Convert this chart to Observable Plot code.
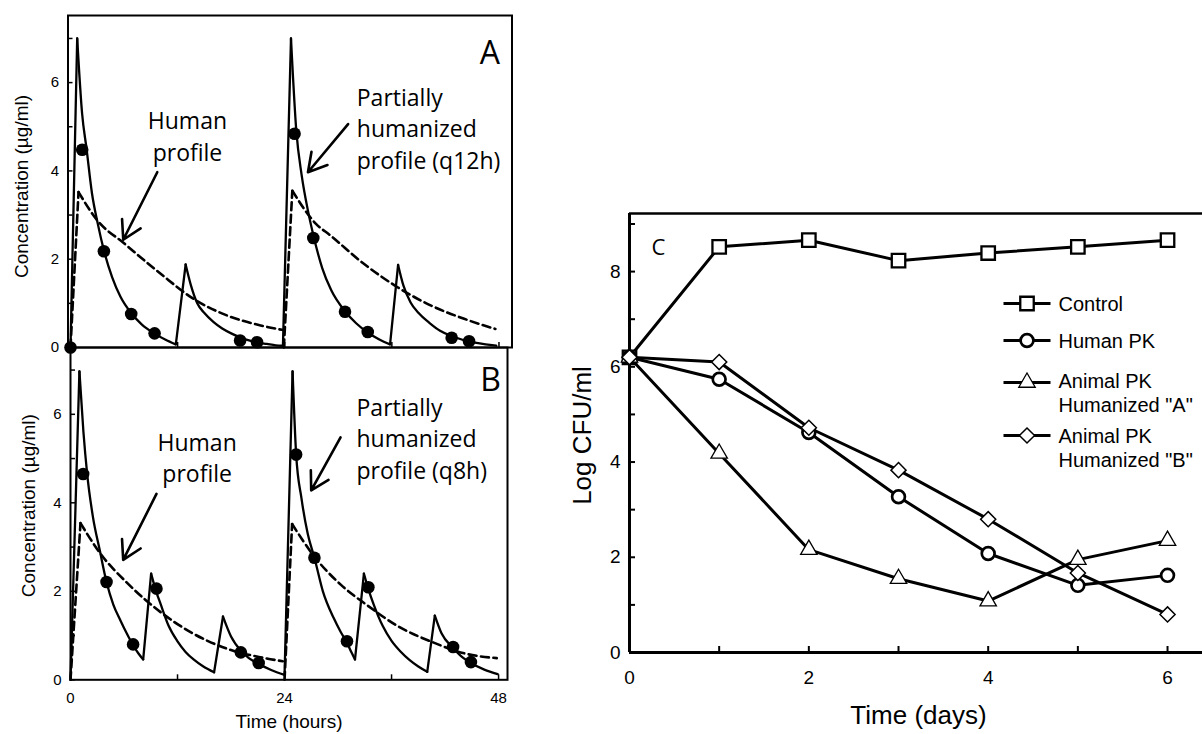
<!DOCTYPE html>
<html><head><meta charset="utf-8">
<script src="https://cdn.jsdelivr.net/npm/d3@7"></script>
<script src="https://cdn.jsdelivr.net/npm/@observablehq/plot@0.6"></script>
<style>
body{margin:0;background:#fff;}
#wrap{position:relative;width:1202px;height:734px;overflow:hidden;background:#fff;}
#wrap svg{position:absolute;}
</style></head><body><div id="wrap"></div>
<script>
// ---------- Panel A (q12h) : [hours, µg/ml], one array per curve segment ----------
const solidA = [
  [[0,0],[0.75,7.0]],
  [[0.75,7.0],[1.3,5.3],[1.8,4.5],[2.4,3.5],[3.06,2.8],[3.74,2.2],[4.67,1.59],[5.6,1.15],[6.8,0.78],[8.0,0.52],[9.4,0.32],[10.6,0.18],[11.8,0.07]],
  [[11.8,0.07],[12.9,1.88]],
  [[12.9,1.88],[13.5,1.4],[14.2,1.0],[15,0.78],[16,0.58],[17,0.43],[18,0.32],[19,0.23],[20,0.16],[21,0.11],[22,0.08],[23,0.05],[23.8,0.04]],
  [[23.8,0.04],[24.7,7.0]],
  [[24.7,7.0],[25.3,4.9],[25.9,3.9],[26.6,3.1],[27.2,2.55],[28.2,1.8],[29.2,1.3],[30.75,0.82],[32,0.55],[33.3,0.34],[34.6,0.18],[35.8,0.07]],
  [[35.8,0.07],[36.7,1.87]],
  [[36.7,1.87],[37.3,1.4],[38.1,1.02],[39,0.78],[40.2,0.56],[41.4,0.38],[42.7,0.26],[44,0.17],[45.3,0.11],[46.5,0.07],[47.7,0.04]]
];
const dashedA = [
  [[0,0],[0.9,3.52]],
  [[0.9,3.52],[3.0,2.88],[6.0,2.36],[10.1,1.67],[13.8,1.10],[17.6,0.72],[21.3,0.50],[23.7,0.40]],
  [[23.9,0],[24.85,3.55]],
  [[24.85,3.55],[27.5,2.8],[29.1,2.54],[32.9,1.89],[36.6,1.37],[40.4,0.95],[44.1,0.65],[47.6,0.42]]
];
const dotsA = [[0,0],[1.31,4.48],[3.74,2.18],[6.8,0.76],[9.42,0.32],[19.0,0.16],[20.9,0.12],
  [25.1,4.84],[27.2,2.48],[30.75,0.81],[33.3,0.35],[42.7,0.22],[44.65,0.14]];

// ---------- Panel B (q8h) ----------
const solidB = [
  [[0,0],[1.0,6.97]],
  [[1.0,6.97],[1.45,5.6],[1.87,4.65],[2.5,3.7],[3.29,2.92],[4.04,2.21],[4.8,1.7],[5.6,1.34],[6.3,1.05],[7.02,0.78],[7.6,0.6],[8.15,0.46]],
  [[8.15,0.46],[9.04,2.40]],
  [[9.04,2.40],[9.6,2.0],[10.09,1.72],[11,1.22],[11.96,0.88],[12.9,0.63],[13.8,0.46],[14.9,0.3],[16.1,0.17]],
  [[16.1,0.17],[17.1,1.43]],
  [[17.1,1.43],[18,0.98],[19.1,0.66],[20,0.49],[21.1,0.36],[22.5,0.22],[24.0,0.11]],
  [[24.0,0.11],[24.9,6.97]],
  [[24.9,6.97],[25.3,5.1],[25.9,4.1],[26.6,3.3],[27.35,2.76],[28.3,2.0],[29.5,1.4],[30.3,1.08],[31.0,0.84],[31.5,0.62],[31.9,0.46]],
  [[31.9,0.46],[32.9,2.40]],
  [[32.9,2.40],[33.4,2.05],[34,1.7],[35,1.22],[36,0.88],[37,0.64],[38,0.45],[39,0.3],[40.0,0.18]],
  [[40.0,0.18],[40.85,1.45]],
  [[40.85,1.45],[41.6,1.05],[42.9,0.72],[44,0.5],[44.9,0.38],[46.4,0.23],[47.9,0.13]]
];
const dashedB = [
  [[0,0],[1.12,3.54]],
  [[1.12,3.54],[3.36,2.85],[6.35,2.19],[10.1,1.53],[13.8,1.04],[17.6,0.70],[21.3,0.51],[23.8,0.42]],
  [[24.0,0],[24.85,3.52]],
  [[24.85,3.52],[27.4,2.77],[30.3,2.15],[33.3,1.68],[36.9,1.19],[40.6,0.85],[44.3,0.59],[47.8,0.49]]
];
const dotsB = [[1.42,4.65],[4.04,2.21],[7.02,0.80],[9.64,2.06],[19.1,0.62],[21.1,0.38],
  [25.3,5.09],[27.35,2.76],[31.0,0.87],[33.4,2.09],[42.9,0.74],[44.9,0.40]];

// annotations (data units: hours, µg/ml)
const humanNoteA = [{t:13.1, c:4.82, text:"Human\nprofile"}];
const partNoteA  = [{t:32.07, c:4.99, text:"Partially\nhumanized\nprofile (q12h)"}];
const arrowsA = [{t1:9.72,c1:3.97,t2:5.91,c2:2.44},{t1:31.1,c1:5.06,t2:26.6,c2:3.97}];
const humanNoteB = [{t:14.2, c:5.05, text:"Human\nprofile"}];
const partNoteB  = [{t:32.07, c:5.48, text:"Partially\nhumanized\nprofile (q8h)"}];
const arrowsB = [{t1:9.64,c1:4.20,t2:5.91,c2:2.71},{t1:30.28,c1:5.48,t2:26.99,c2:4.28}];

const concTicks = [0,2,4,6];
const concMinor = [0,1,2,3,4,5,6,7];
const hourTicks = [0,24,48];
const hourMinor = [0,12,24,36,48];

// ---------- Panel C ----------
const days = [0,1,2,3,4,5,6];
const control = [6.2, 8.52, 8.66, 8.23, 8.39, 8.52, 8.66];
const humanPK = [6.2, 5.74, 4.62, 3.27, 2.08, 1.41, 1.62];
const animalA = [6.2, 4.18, 2.16, 1.55, 1.08, 1.95, 2.35];
const animalB = [6.2, 6.10, 4.72, 3.83, 2.80, 1.67, 0.80];
const legendLabels = ["Control","Human PK","Animal PK\nHumanized \"A\"","Animal PK\nHumanized \"B\""];
const legendSymbols = ["square","circle","triangle","diamond2"];
const cfuTicks = [0,2,4,6,8];
const cfuMinor = [0,1,2,3,4,5,6,7,8,9];
const dayTicks = [0,2,4,6];
const dayMinor = [0,1,2,3,4,5,6];

// ---------- helpers ----------
const SANS = "'Liberation Sans', Arial, Helvetica, sans-serif";
const NOTE = "'Open Sans', sans-serif";
const wrap = document.getElementById("wrap");
const rowsOf = segs => segs.flatMap((seg,i) => seg.map(([t,c]) => ({t, c, seg:i})));
const ptsOf = arr => arr.map(([t,c]) => ({t, c}));

function pkPanel({solid, dashed, dots, humanNote, partNote, arrows, letter, left, top, width, height, mL, mR, mT, mB, xDomain, yDomain, showX, yTitle, letterPos}) {
  const marks = [
    Plot.frame({strokeWidth: 2}),
    Plot.axisY(concMinor, {tickSize: -5, tickFormat: () => "", strokeWidth: 1.5, label: null}),
    Plot.axisY(concTicks, {tickSize: 0, tickPadding: 9, fontSize: 15, label: null}),
    Plot.axisX(hourMinor, {tickSize: -5, tickFormat: () => "", strokeWidth: 1.5, label: null}),
    Plot.line(rowsOf(dashed), {x: "t", y: "c", z: "seg", stroke: "black", strokeWidth: 2.6, strokeDasharray: "8,4.5", curve: "monotone-x"}),
    Plot.line(rowsOf(solid), {x: "t", y: "c", z: "seg", stroke: "black", strokeWidth: 2.3, curve: "monotone-x"}),
    Plot.dot(ptsOf(dots), {x: "t", y: "c", r: 6.3, fill: "black"}),
    Plot.arrow(arrows, {x1: "t1", y1: "c1", x2: "t2", y2: "c2", stroke: "black", strokeWidth: 2.6, headLength: 12}),
    Plot.text(humanNote, {x: "t", y: "c", text: "text", textAnchor: "middle", lineAnchor: "middle", lineHeight: 1.38, fontSize: 23, fontFamily: NOTE, fill: "black"}),
    Plot.text(partNote, {x: "t", y: "c", text: "text", textAnchor: "start", lineAnchor: "middle", lineHeight: 1.38, fontSize: 23, fontFamily: NOTE, fill: "black"}),
    Plot.text([letter], {frameAnchor: "top-right", dx: letterPos[0], dy: letterPos[1], textAnchor: "middle", lineAnchor: "middle", fontSize: 32, fontFamily: NOTE, fill: "black"}),
    Plot.text(["Concentration (µg/ml)"], {frameAnchor: "left", rotate: -90, dx: yTitle[0], dy: yTitle[1], textAnchor: "middle", lineAnchor: "middle", fontSize: 19, fill: "black"})
  ];
  if (showX) {
    marks.push(Plot.axisX(hourTicks, {tickSize: 0, tickPadding: 13, fontSize: 15, label: null}));
    marks.push(Plot.text(["Time (hours)"], {frameAnchor: "bottom", dy: 42.4, textAnchor: "middle", lineAnchor: "middle", fontSize: 19, fill: "black"}));
  }
  const svg = Plot.plot({
    width, height, marginLeft: mL, marginRight: mR, marginTop: mT, marginBottom: mB,
    x: {domain: xDomain}, y: {domain: yDomain},
    style: {background: "transparent", overflow: "visible", fontFamily: SANS, color: "black"},
    marks
  });
  svg.style.left = left + "px"; svg.style.top = top + "px";
  wrap.appendChild(svg);
}

pkPanel({solid: solidA, dashed: dashedA, dots: dotsA, humanNote: humanNoteA, partNote: partNoteA, arrows: arrowsA, letter: "A",
  left: 0, top: 0, width: 520, height: 360, mL: 67.5, mR: 8.5, mT: 15, mB: 13,
  xDomain: [-0.28, 49.46], yDomain: [0, 7.52], showX: false, yTitle: [-45.8, 5], letterPos: [-22.2, 38.3]});

pkPanel({solid: solidB, dashed: dashedB, dots: dotsB, humanNote: humanNoteB, partNote: partNoteB, arrows: arrowsB, letter: "B",
  left: 0, top: 340, width: 520, height: 394, mL: 70, mR: 13, mT: 7, mB: 54.7,
  xDomain: [0, 49.0], yDomain: [0, 7.51], showX: true, yTitle: [-42, -8], letterPos: [-17, 33]});

// ---------- Panel C ----------
const seriesC = [control, humanPK, animalA, animalB];
const rowsC = seriesC.flatMap((vals, s) => days.map((d, i) => ({day: d, v: vals[i], s})));
const markerStyle = [
  {symbol: "square", r: 7.6, strokeWidth: 2.3},
  {symbol: "circle", r: 6.4, strokeWidth: 2.7},
  {symbol: "triangle", r: 6.1, strokeWidth: 1.3},
  {symbol: "diamond2", r: 6.8, strokeWidth: 1.5}
];
const legendLine = {draw(ctx) { ctx.moveTo(-23.5, 0); ctx.lineTo(23.5, 0); }};
const FL = 629, FT = 213; // frame top-left in page px
const legendLineY = [303, 340, 382, 435];
const legendTextY = [303, 340, 392, 446.7];

const cMarks = [
  Plot.ruleY([9.22], {strokeWidth: 2.4}),
  Plot.axisY(cfuMinor, {tickSize: -6, tickFormat: () => "", strokeWidth: 2, label: null}),
  Plot.axisY(cfuTicks, {tickSize: 0, tickPadding: 9, fontSize: 19, label: null}),
  Plot.axisX(dayMinor, {tickSize: -6, tickFormat: () => "", strokeWidth: 2, label: null}),
  Plot.axisX(dayTicks, {tickSize: 0, tickPadding: 18, fontSize: 19, label: null}),
  Plot.ruleX([0], {strokeWidth: 3}),
  Plot.ruleY([0], {strokeWidth: 3}),
  Plot.line(rowsC, {x: "day", y: "v", z: "s", stroke: "black", strokeWidth: 3}),
  ...markerStyle.map((m, s) => Plot.dot(rowsC.filter(d => d.s === s), {x: "day", y: "v", symbol: m.symbol, r: m.r, fill: "white", stroke: "black", strokeWidth: m.strokeWidth})),
  ...legendLabels.flatMap((lab, i) => [
    Plot.dot([lab], {frameAnchor: "top-left", dx: 1026.5 - FL, dy: legendLineY[i] - FT, symbol: legendLine, fill: "none", stroke: "black", strokeWidth: 3}),
    Plot.dot([lab], {frameAnchor: "top-left", dx: 1026.5 - FL, dy: legendLineY[i] - FT, symbol: legendSymbols[i], r: markerStyle[i].r, fill: "white", stroke: "black", strokeWidth: markerStyle[i].strokeWidth}),
    Plot.text([lab], {frameAnchor: "top-left", dx: 1058 - FL, dy: legendTextY[i] - FT, textAnchor: "start", lineAnchor: "middle", lineHeight: 1.2, fontSize: 20, fill: "black"})
  ]),
  Plot.text(["C"], {frameAnchor: "top-left", dx: 29, dy: 34, textAnchor: "middle", lineAnchor: "middle", fontSize: 22, fontFamily: NOTE, fill: "black"}),
  Plot.text(["Log CFU/ml"], {frameAnchor: "left", rotate: -90, dx: -47, dy: 2.5, textAnchor: "middle", lineAnchor: "middle", fontSize: 26, fill: "black"}),
  Plot.text(["Time (days)"], {frameAnchor: "bottom", dx: 2.5, dy: 63, textAnchor: "middle", lineAnchor: "middle", fontSize: 26, fill: "black"})
];
const svgC = Plot.plot({
  width: 662, height: 734, marginLeft: FL - 540, marginRight: 0, marginTop: FT, marginBottom: 82,
  x: {domain: [0, 6.39]}, y: {domain: [0, 9.22]},
  style: {background: "transparent", overflow: "visible", fontFamily: SANS, color: "black"},
  marks: cMarks
});
svgC.style.left = "540px"; svgC.style.top = "0px";
wrap.appendChild(svgC);
</script></body></html>
